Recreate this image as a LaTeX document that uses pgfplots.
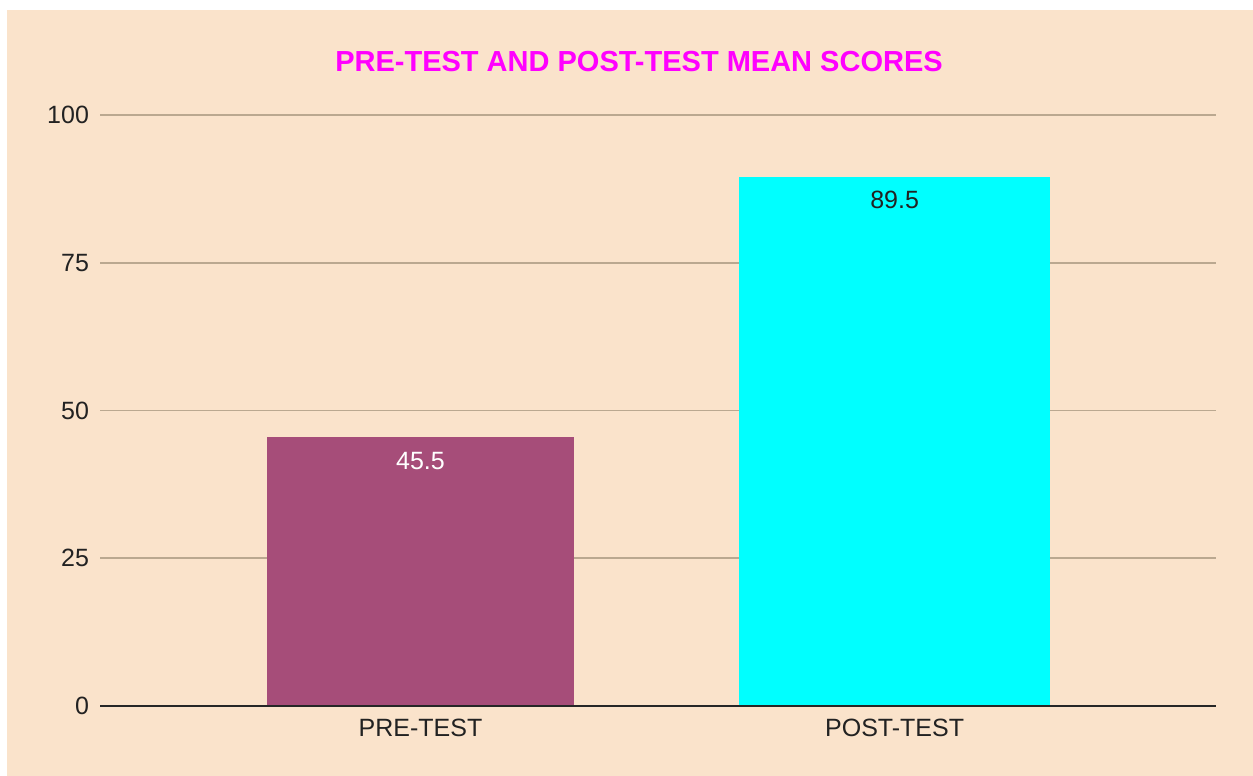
\documentclass[border=0pt]{standalone}
\usepackage{pgfplots}
\pgfplotsset{compat=1.18}
\usepackage{fontspec}
\setmainfont{Liberation Sans}
\definecolor{bg}{HTML}{FAE3CB}
\definecolor{prec}{HTML}{A64D79}
\definecolor{postc}{HTML}{00FFFF}
\definecolor{titlec}{HTML}{FF00FF}
\definecolor{gridc}{HTML}{BAA890}
\definecolor{txt}{HTML}{222222}
\begin{document}
\begin{tikzpicture}[x=1pt,y=1pt]
\fill[white] (0,0) rectangle (626.5,388);
\fill[bg] (3.5,0) rectangle (626.5,383);
\node[font=\bfseries\fontsize{14.5}{16}\selectfont, text=titlec] at (319.5,357) {PRE-TEST AND POST-TEST MEAN SCORES};
\begin{axis}[
  at={(50pt,35pt)}, anchor=south west, scale only axis,
  width=558pt, height=295.5pt,
  ymin=0, ymax=100, xmin=-0.676, xmax=1.678,
  ytick={0,25,50,75,100}, xtick={0,1}, xticklabels={PRE-TEST,POST-TEST},
  axis line style={draw=none},
  major tick length=0pt,
  ymajorgrids, grid style={gridc, line width=0.8pt},
  /pgf/number format/assume math mode=true,
  tick label style={font=\fontsize{12.5}{14}\selectfont, text=txt},
  yticklabel style={xshift=-2pt},
  xticklabel style={yshift=-3pt},
  clip=false,
]
\addplot[ybar, bar width=0.648, bar shift=0pt, fill=prec, draw=none,
  nodes near coords,
  nodes near coords style={anchor=north, inner sep=0pt, yshift=-7.5pt, text=white, font=\fontsize{12.5}{14}\selectfont}]
  coordinates {(0,45.5)};
\addplot[ybar, bar width=0.656, bar shift=0pt, fill=postc, draw=none,
  nodes near coords,
  nodes near coords style={anchor=north, inner sep=0pt, yshift=-7pt, text=txt, font=\fontsize{12.5}{14}\selectfont}]
  coordinates {(1,89.5)};
\draw[black!85, line width=1pt] (rel axis cs:0,0) -- (rel axis cs:1,0);
\end{axis}
\end{tikzpicture}
\end{document}
